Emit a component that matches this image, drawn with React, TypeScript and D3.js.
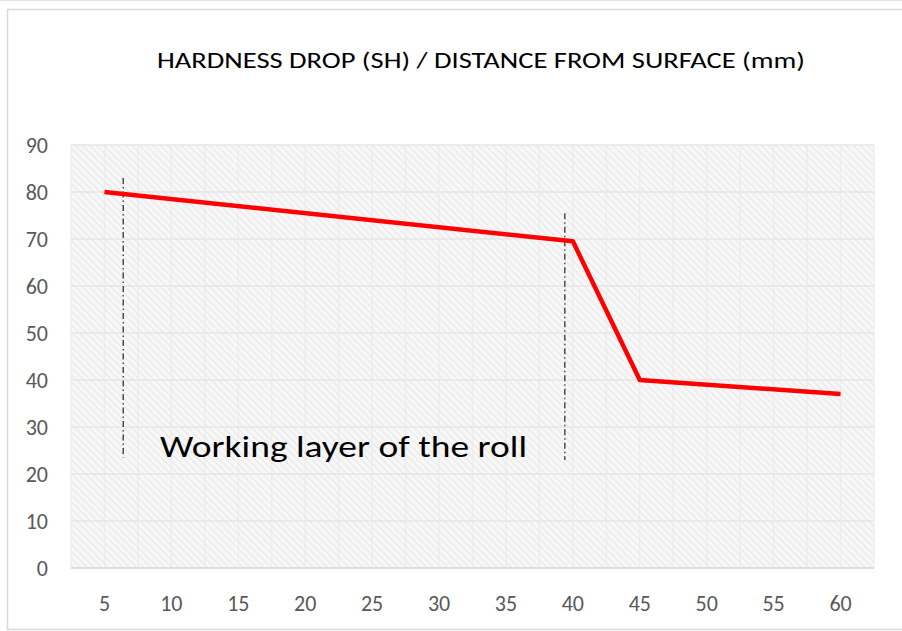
import * as d3 from 'd3';

const distances = [5, 10, 15, 20, 25, 30, 35, 40, 45, 50, 55, 60];
// hardness drop, only the measured points (others left empty)
const hardness: (number | null)[] = [80, null, null, null, null, null, null, 69.5, 40, null, null, 37];
const yTicks = [0, 10, 20, 30, 40, 50, 60, 70, 80, 90];

// dash-dot markers drawn on the chart: [distance, from, to]
const markers: [number, number, number][] = [
  [6.4, 23.5, 83],
  [39.4, 23, 75.5],
];

const title = 'HARDNESS DROP (SH) / DISTANCE FROM SURFACE (mm)';
const note = 'Working layer of the roll';

const W = 902;
const H = 631;
const plot = { left: 71, right: 874, top: 145, bottom: 568 };

const App = () => {
  const step = (plot.right - plot.left) / distances.length;
  const x = d3.scaleLinear()
    .domain([distances[0], distances[distances.length - 1]])
    .range([plot.left + step / 2, plot.right - step / 2]);
  const y = d3.scaleLinear().domain([0, 90]).range([plot.bottom, plot.top]);

  const pts = distances
    .map((d, i) => ({ d, v: hardness[i] }))
    .filter(p => p.v !== null) as { d: number; v: number }[];

  const line = d3.line<{ d: number; v: number }>()
    .x(p => x(p.d))
    .y(p => y(p.v));

  // vertical grid: band edges and centres
  const vGrid: number[] = [];
  distances.forEach((d, i) => {
    vGrid.push(plot.left + step * i);
    vGrid.push(x(d));
  });
  vGrid.push(plot.right);

  const font = "Carlito, Lato, 'Open Sans', sans-serif";

  return (
    <svg width={W} height={H} style={{ position: 'absolute', left: 0, top: 0 }}>
      <defs>
        <pattern id="hatch" width="5" height="5" patternUnits="userSpaceOnUse" patternTransform="rotate(-45)">
          <rect width="5" height="5" fill="#f7f7f7" />
          <line x1="0" y1="0" x2="0" y2="5" stroke="#e3e3e3" strokeWidth="1.6" />
        </pattern>
      </defs>
      <rect x={0} y={0} width={W} height={H} fill="#fff" />
      <line x1={0} x2={W} y1={0.5} y2={0.5} stroke="#e3e3e3" />
      <rect x={7.5} y={9.5} width={W + 10} height={620} fill="#fff" stroke="#d9d9d9" strokeWidth={1.5} />

      <text x={481} y={68} textAnchor="middle" fontFamily={font} fontSize={21.5} fill="#000"
        textLength={648} lengthAdjust="spacingAndGlyphs">{title}</text>

      <rect x={plot.left} y={plot.top} width={plot.right - plot.left} height={plot.bottom - plot.top} fill="url(#hatch)" />

      {vGrid.map((gx, i) => (
        <line key={'v' + i} x1={gx} x2={gx} y1={plot.top} y2={plot.bottom} stroke="#ebebeb" strokeOpacity={0.8} strokeWidth={1.5} />
      ))}
      {yTicks.map(t => (
        <line key={'h' + t} x1={plot.left} x2={plot.right} y1={y(t)} y2={y(t)} stroke="#e6e6e6" strokeWidth={1.5} />
      ))}
      <line x1={plot.left} x2={plot.right} y1={plot.bottom} y2={plot.bottom} stroke="#d9d9d9" strokeWidth={1.5} />

      {yTicks.map(t => (
        <text key={'yl' + t} x={48} y={y(t)} dy="0.36em" textAnchor="end" fontFamily={font} fontSize={22} fill="#595959">{t}</text>
      ))}
      {distances.map(d => (
        <text key={'xl' + d} x={x(d)} y={611} textAnchor="middle" fontFamily={font} fontSize={22} fill="#595959">{d}</text>
      ))}

      {markers.map(([d, a, b], i) => (
        <line key={'m' + i} x1={x(d)} x2={x(d)} y1={y(b)} y2={y(a)} stroke="#222" strokeWidth={1.2} strokeDasharray="6,3,1.5,3" />
      ))}

      <path d={line(pts) || ''} fill="none" stroke="#ff0000" strokeWidth={4.5} strokeLinejoin="round" />

      <text x={160} y={457} fontFamily={font} fontSize={31} fill="#000" textLength={367} lengthAdjust="spacingAndGlyphs">{note}</text>
    </svg>
  );
};

export default App;
